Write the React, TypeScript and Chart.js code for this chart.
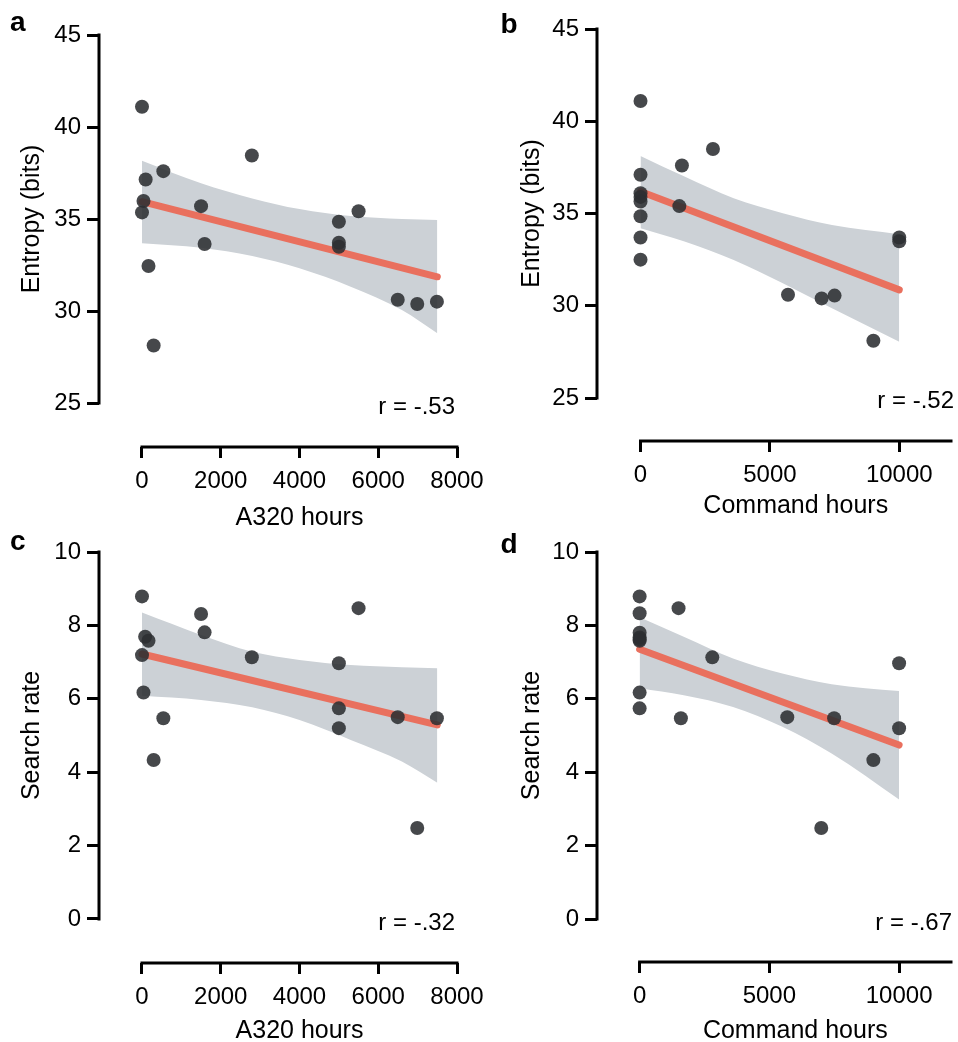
import React, { useEffect, useRef } from "react";
import { Chart, registerables } from "chart.js";

Chart.register(...registerables);

const FONT = '"Liberation Sans", Arial, Helvetica, sans-serif';

// ---------- tick labels ----------
const a320Ticks = [0, 2000, 4000, 6000, 8000];
const commandTicks = [0, 5000, 10000];
const entropyTicks = [25, 30, 35, 40, 45];
const searchTicks = [0, 2, 4, 6, 8, 10];

// ---------- panel a : Entropy vs A320 hours ----------
const aHours = [0, 93, 542, 38, 0, 165, 296, 1500, 1590, 2790, 5000, 5000, 5000, 5500, 6495, 6990, 7490];
const aEntropy = [41.1, 37.15, 37.6, 35.98, 35.36, 32.45, 28.13, 35.7, 33.64, 38.45, 34.85, 33.71, 33.49, 35.42, 30.61, 30.38, 30.51];
const aFitX = [0, 7500];
const aFitY = [35.94, 31.86];
const aBandX = [0, 1500, 2800, 4000, 5300, 6600, 7500];
const aBandUpper = [38.17, 36.94, 36.12, 35.54, 35.16, 35.0, 34.95];
const aBandLower = [33.68, 33.44, 32.99, 32.32, 31.32, 30.05, 28.79];

// ---------- panel b : Entropy vs Command hours ----------
const bHours = [0, 0, 0, 0, 0, 0, 0, 0, 1500, 1600, 2800, 5700, 7000, 7500, 9000, 10000, 10000];
const bEntropy = [41.1, 37.1, 36.1, 35.9, 35.65, 34.85, 33.7, 32.5, 35.4, 37.6, 38.5, 30.6, 30.4, 30.55, 28.1, 33.7, 33.5];
const bFitX = [0, 10000];
const bFitY = [36.19, 30.86];
const bBandX = [0, 1700, 3600, 5500, 7400, 10000];
const bBandUpper = [38.12, 37.0, 35.83, 35.02, 34.38, 33.88];
const bBandLower = [34.2, 33.48, 32.48, 31.22, 29.86, 28.05];

// ---------- panel c : Search rate vs A320 hours ----------
const cHours = [0, 80, 165, 0, 38, 542, 296, 1500, 1590, 2790, 5000, 5000, 5000, 5500, 6495, 6990, 7490];
const cRate = [8.79, 7.69, 7.58, 7.19, 6.17, 5.47, 4.33, 8.31, 7.81, 7.13, 6.97, 5.74, 5.2, 8.47, 5.5, 2.48, 5.47];
const cFitX = [0, 7500];
const cFitY = [7.22, 5.29];
const cBandX = [0, 1500, 2800, 4000, 5300, 6600, 7500];
const cBandUpper = [8.35, 7.74, 7.28, 7.06, 6.92, 6.86, 6.83];
const cBandLower = [6.08, 5.97, 5.77, 5.42, 4.88, 4.29, 3.71];

// ---------- panel d : Search rate vs Command hours ----------
const dHours = [0, 0, 0, 0, 0, 0, 0, 0, 1500, 1590, 2800, 5690, 7000, 7495, 9008, 10000, 10000];
const dRate = [8.79, 8.33, 7.8, 7.67, 7.62, 7.58, 6.17, 5.74, 8.47, 5.47, 7.13, 5.5, 2.48, 5.47, 4.33, 6.97, 5.2];
const dFitX = [0, 10000];
const dFitY = [7.35, 4.74];
const dBandX = [0, 1700, 3600, 5500, 7400, 10000];
const dBandUpper = [8.22, 7.69, 7.1, 6.69, 6.4, 6.21];
const dBandLower = [6.29, 6.1, 5.78, 5.24, 4.51, 3.26];

const pts = (xs: number[], ys: number[]) => xs.map((x, i) => ({ x, y: ys[i] }));

type Panel = {
  key: string;
  left: number; top: number; width: number; height: number;
  areaLeft: number; areaRight: number; areaTop: number; areaBottom: number;
  xMin: number; xMax: number; yMin: number; yMax: number;
  xTicks: number[]; yTicks: number[]; xAxisEnd: number;
  hx: number[]; vy: number[];
  fitX: number[]; fitY: number[];
  bandX: number[]; bandU: number[]; bandL: number[];
  letter: string; letterX: number; letterY: number;
  rText: string; rX: number; rY: number;
  xTitle: string; xTitleY: number;
  yTitle: string; yTitleX: number;
};

const panels: Panel[] = [
  {
    key: "a", left: 0, top: 0, width: 500, height: 540,
    areaLeft: 99, areaRight: 457, areaTop: 35, areaBottom: 447,
    xMin: -1092, xMax: 8000, yMin: 22.61, yMax: 45,
    xTicks: a320Ticks, yTicks: entropyTicks, xAxisEnd: 8000,
    hx: aHours, vy: aEntropy, fitX: aFitX, fitY: aFitY,
    bandX: aBandX, bandU: aBandUpper, bandL: aBandLower,
    letter: "a", letterX: 10, letterY: 30.5,
    rText: "r = -.53", rX: 455, rY: 414,
    xTitle: "A320 hours", xTitleY: 525,
    yTitle: "Entropy (bits)", yTitleX: 39,
  },
  {
    key: "b", left: 479, top: 0, width: 479, height: 540,
    areaLeft: 118, areaRight: 476, areaTop: 29, areaBottom: 441,
    xMin: -1682, xMax: 12000, yMin: 22.67, yMax: 45,
    xTicks: commandTicks, yTicks: entropyTicks, xAxisEnd: 12000,
    hx: bHours, vy: bEntropy, fitX: bFitX, fitY: bFitY,
    bandX: bBandX, bandU: bBandUpper, bandL: bBandLower,
    letter: "b", letterX: 21.5, letterY: 32.5,
    rText: "r = -.52", rX: 475, rY: 408,
    xTitle: "Command hours", xTitleY: 513,
    yTitle: "Entropy (bits)", yTitleX: 60,
  },
  {
    key: "c", left: 0, top: 520, width: 500, height: 522,
    areaLeft: 99, areaRight: 457, areaTop: 32, areaBottom: 443,
    xMin: -1092, xMax: 8000, yMin: -1.2, yMax: 10,
    xTicks: a320Ticks, yTicks: searchTicks, xAxisEnd: 8000,
    hx: cHours, vy: cRate, fitX: cFitX, fitY: cFitY,
    bandX: cBandX, bandU: cBandUpper, bandL: cBandLower,
    letter: "c", letterX: 10, letterY: 30,
    rText: "r = -.32", rX: 455, rY: 410,
    xTitle: "A320 hours", xTitleY: 518,
    yTitle: "Search rate", yTitleX: 39,
  },
  {
    key: "d", left: 479, top: 520, width: 479, height: 522,
    areaLeft: 118, areaRight: 475, areaTop: 32, areaBottom: 442,
    xMin: -1643, xMax: 12000, yMin: -1.17, yMax: 10,
    xTicks: commandTicks, yTicks: searchTicks, xAxisEnd: 12000,
    hx: dHours, vy: dRate, fitX: dFitX, fitY: dFitY,
    bandX: dBandX, bandU: dBandUpper, bandL: dBandLower,
    letter: "d", letterX: 21.5, letterY: 32.5,
    rText: "r = -.67", rX: 473, rY: 410,
    xTitle: "Command hours", xTitleY: 518,
    yTitle: "Search rate", yTitleX: 60,
  },
];

function buildChart(canvas: HTMLCanvasElement, p: Panel) {
  const decor = {
    id: "decor" + p.key,
    afterDraw(chart: any) {
      const ctx: CanvasRenderingContext2D = chart.ctx;
      const xs = chart.scales.x;
      const ys = chart.scales.y;
      const area = chart.chartArea;
      ctx.save();
      ctx.strokeStyle = "#000";
      ctx.lineWidth = 3;
      ctx.lineCap = "square";
      ctx.beginPath();
      const x0 = xs.getPixelForValue(p.xTicks[0]);
      const x1 = xs.getPixelForValue(p.xAxisEnd);
      ctx.moveTo(x0, area.bottom);
      ctx.lineTo(x1, area.bottom);
      const y0 = ys.getPixelForValue(p.yTicks[0]);
      const y1 = ys.getPixelForValue(p.yTicks[p.yTicks.length - 1]);
      ctx.moveTo(area.left, y0);
      ctx.lineTo(area.left, y1);
      ctx.stroke();

      ctx.fillStyle = "#000";
      ctx.font = `bold 28px ${FONT}`;
      ctx.textAlign = "left";
      ctx.textBaseline = "alphabetic";
      ctx.fillText(p.letter, p.letterX, p.letterY);
      ctx.font = `24px ${FONT}`;
      ctx.textAlign = "right";
      ctx.fillText(p.rText, p.rX, p.rY);
      ctx.font = `25px ${FONT}`;
      ctx.textAlign = "center";
      ctx.fillText(p.xTitle, (x0 + x1) / 2, p.xTitleY);
      ctx.save();
      ctx.translate(p.yTitleX, (y0 + y1) / 2);
      ctx.rotate(-Math.PI / 2);
      ctx.fillText(p.yTitle, 0, 0);
      ctx.restore();
      ctx.restore();
    },
  };

  const tickFont = { family: FONT, size: 24 };

  return new Chart(canvas, {
    type: "scatter",
    data: {
      datasets: [
        {
          type: "scatter",
          data: pts(p.hx, p.vy),
          backgroundColor: "rgba(44,47,50,0.88)",
          borderWidth: 0,
          pointRadius: 7,
          order: 1,
        } as any,
        {
          type: "line",
          data: pts(p.fitX, p.fitY),
          borderColor: "#E9705E",
          borderWidth: 7,
          borderCapStyle: "round",
          pointRadius: 0,
          fill: false,
          order: 2,
        } as any,
        {
          type: "line",
          data: pts(p.bandX, p.bandL),
          borderWidth: 0,
          borderColor: "rgba(0,0,0,0)",
          pointRadius: 0,
          fill: false,
          cubicInterpolationMode: "monotone",
          order: 3,
        } as any,
        {
          type: "line",
          data: pts(p.bandX, p.bandU),
          borderWidth: 0,
          borderColor: "rgba(0,0,0,0)",
          backgroundColor: "#CCD1D6",
          pointRadius: 0,
          fill: "-1",
          cubicInterpolationMode: "monotone",
          order: 3,
        } as any,
      ],
    },
    options: {
      responsive: false,
      animation: false,
      devicePixelRatio: 1,
      events: [],
      layout: {
        padding: { left: 0, top: p.areaTop, right: p.width - p.areaRight, bottom: 0 },
      },
      plugins: {
        legend: { display: false },
        tooltip: { enabled: false },
        title: { display: false },
      },
      scales: {
        x: {
          type: "linear",
          min: p.xMin,
          max: p.xMax,
          afterBuildTicks: (s: any) => {
            s.ticks = p.xTicks.map((v) => ({ value: v }));
          },
          afterFit: (s: any) => {
            s.height = p.height - p.areaBottom;
            s.paddingLeft = 0;
            s.paddingRight = 0;
            s.paddingTop = 0;
            s.paddingBottom = 0;
          },
          grid: {
            display: true,
            drawOnChartArea: false,
            drawTicks: true,
            tickLength: 11,
            lineWidth: 3,
            color: "#000",
          },
          border: { display: false },
          ticks: {
            font: tickFont,
            color: "#000",
            padding: 9,
            maxRotation: 0,
            autoSkip: false,
            callback: (v: any) => String(v),
          },
        },
        y: {
          type: "linear",
          min: p.yMin,
          max: p.yMax,
          afterBuildTicks: (s: any) => {
            s.ticks = p.yTicks.map((v) => ({ value: v }));
          },
          afterFit: (s: any) => {
            s.width = p.areaLeft;
            s.paddingLeft = 0;
            s.paddingRight = 0;
            s.paddingTop = 0;
            s.paddingBottom = 0;
          },
          grid: {
            display: true,
            drawOnChartArea: false,
            drawTicks: true,
            tickLength: 12,
            lineWidth: 3,
            color: "#000",
          },
          border: { display: false },
          ticks: {
            font: tickFont,
            color: "#000",
            padding: 6,
            autoSkip: false,
            callback: (v: any) => String(v),
          },
        },
      },
    } as any,
    plugins: [decor],
  });
}

function PanelChart({ p }: { p: Panel }) {
  const ref = useRef<HTMLCanvasElement | null>(null);
  useEffect(() => {
    if (!ref.current) return;
    const chart = buildChart(ref.current, p);
    return () => chart.destroy();
  }, [p]);
  return (
    <canvas
      ref={ref}
      width={p.width}
      height={p.height}
      style={{ position: "absolute", left: p.left, top: p.top, width: p.width, height: p.height }}
    />
  );
}

export default function App() {
  return (
    <div
      style={{
        position: "absolute",
        left: 0,
        top: 0,
        width: 958,
        height: 1042,
        background: "#fff",
        overflow: "hidden",
      }}
    >
      {panels.map((p) => (
        <PanelChart key={p.key} p={p} />
      ))}
    </div>
  );
}
